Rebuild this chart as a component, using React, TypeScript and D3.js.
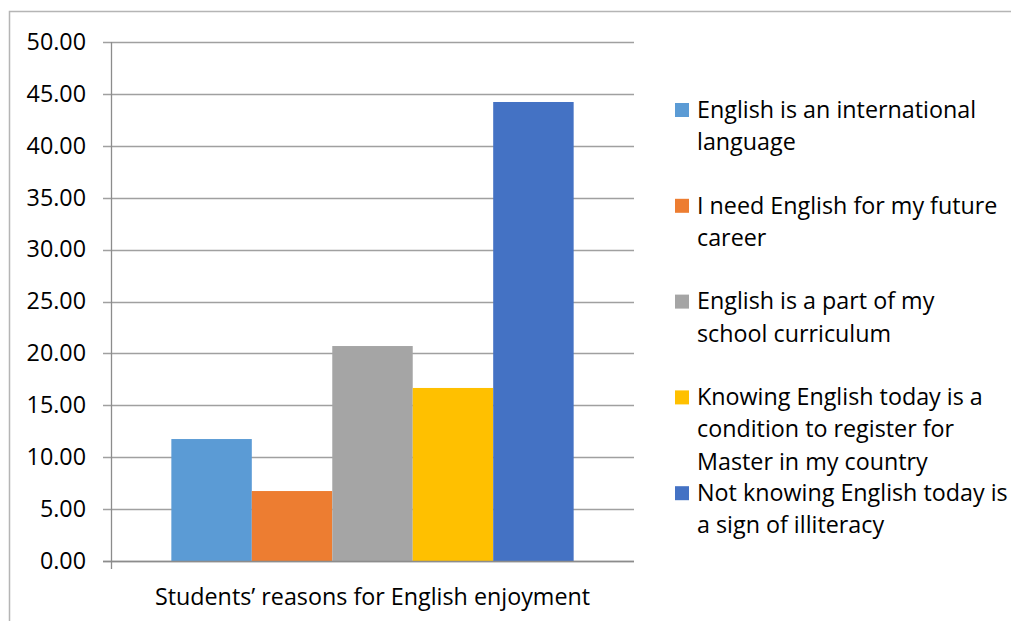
import React from "react";
import * as d3 from "d3";

const category = "Students\u2019 reasons for English enjoyment";
const seriesNames = [
  "English is an international language",
  "I need English for my future career",
  "English is a part of my school curriculum",
  "Knowing English today is a condition to register for Master in my country",
  "Not knowing English today is a sign of illiteracy",
];
const legendLines = [
  ["English is an international", "language"],
  ["I need English for my future", "career"],
  ["English is a part of my", "school curriculum"],
  ["Knowing English today is a", "condition to register for", "Master in my country"],
  ["Not knowing English today is", "a sign of illiteracy"],
];
const values = [11.75, 6.74, 20.71, 16.67, 44.22];
const colors = ["#5B9BD5", "#ED7D31", "#A5A5A5", "#FFC000", "#4472C4"];
const yTicks = [0, 5, 10, 15, 20, 25, 30, 35, 40, 45, 50];

const FONT = "'Open Sans', Lato, sans-serif";

export default function App() {
  const W = 1011;
  const H = 621;
  const plotLeft = 111;
  const plotRight = 634;
  const plotTop = 42;
  const plotBottom = 561;

  const y = d3.scaleLinear().domain([0, 50]).range([plotBottom, plotTop]);
  const xOuter = d3
    .scaleBand<string>()
    .domain([category])
    .range([plotLeft, plotRight])
    .paddingInner(0)
    .paddingOuter(0.15);
  const xInner = d3
    .scaleBand<string>()
    .domain(seriesNames)
    .range([0, xOuter.bandwidth()])
    .padding(0);

  const gridColor = "#a0a0a0";
  const axisColor = "#8c8c8c";
  const fontSize = 23.3;

  const legendX = 675;
  const legendTop = 103;
  const entryPitch = 95.8;
  const lineH = 32.3;

  return (
    <svg
      width={W}
      height={H}
      style={{ position: "absolute", left: 0, top: 0, background: "#fff" }}
      fontFamily={FONT}
    >
      <rect x={0} y={0} width={W} height={H} fill="#fff" />
      <rect x={9.5} y={11.5} width={W + 20} height={H + 20} fill="none" stroke="#b5b5b5" strokeWidth={1.5} />

      {/* gridlines */}
      {yTicks.map((t) => (
        <line
          key={"g" + t}
          x1={plotLeft - 8}
          x2={plotRight}
          y1={Math.round(y(t)) + 0.5}
          y2={Math.round(y(t)) + 0.5}
          stroke={gridColor}
          strokeWidth={1.3}
        />
      ))}

      {/* bars */}
      {seriesNames.map((s, i) => (
        <rect
          key={s}
          x={(xOuter(category) as number) + (xInner(s) as number)}
          y={y(values[i])}
          width={xInner.bandwidth()}
          height={y(0) - y(values[i])}
          fill={colors[i]}
        />
      ))}

      {/* y axis line */}
      <line x1={plotLeft + 0.5} x2={plotLeft + 0.5} y1={plotTop} y2={plotBottom + 8} stroke={axisColor} strokeWidth={1.3} />
      <line x1={plotLeft - 8} x2={plotRight} y1={Math.round(y(0)) + 0.5} y2={Math.round(y(0)) + 0.5} stroke={axisColor} strokeWidth={1.3} />

      {/* tick labels */}
      {yTicks.map((t) => (
        <text
          key={"t" + t}
          x={86}
          y={y(t) + 7.8}
          textAnchor="end"
          fontSize={fontSize}
          fill="#000"
        >
          {d3.format(".2f")(t)}
        </text>
      ))}

      {/* category label */}
      <text x={(plotLeft + plotRight) / 2} y={605} textAnchor="middle" fontSize={fontSize} fill="#000">
        {category}
      </text>

      {/* legend */}
      {legendLines.map((lines, i) => {
        const top = legendTop + i * entryPitch;
        return (
          <g key={"l" + i}>
            <rect x={legendX} y={top} width={14} height={14} fill={colors[i]} />
            {lines.map((ln, j) => (
              <text key={j} x={legendX + 22} y={top + 14.7 + j * lineH} fontSize={fontSize} fill="#000">
                {ln}
              </text>
            ))}
          </g>
        );
      })}
    </svg>
  );
}
